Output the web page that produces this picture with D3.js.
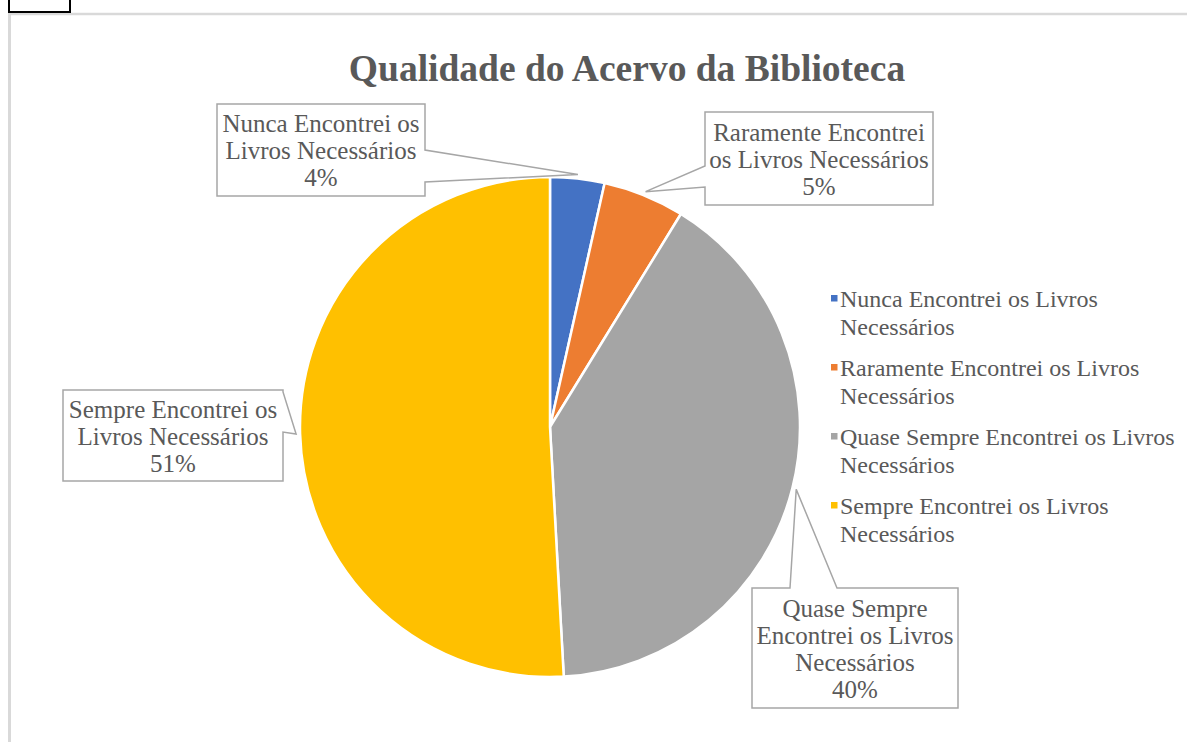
<!DOCTYPE html>
<html lang="pt">
<head>
<meta charset="utf-8">
<title>Qualidade do Acervo da Biblioteca</title>
<script src="https://cdn.jsdelivr.net/npm/d3@7"></script>
<style>
  html, body { margin: 0; padding: 0; background: #fff; }
  svg { display: block; }
</style>
</head>
<body>
<svg id="chart" width="1187" height="742"></svg>
<script>
// Survey answers: how often the library collection had the books needed
const categories = [
  "Nunca Encontrei os Livros Necessários",
  "Raramente Encontrei os Livros Necessários",
  "Quase Sempre Encontrei os Livros Necessários",
  "Sempre Encontrei os Livros Necessários"
];
const responses = [4, 6, 46, 58];
const sliceColors = ["#4472C4", "#ED7D31", "#A5A5A5", "#FFC000"];

// Text broken into lines for the legend and for the callout labels
const legendLines = [
  ["Nunca Encontrei os Livros", "Necessários"],
  ["Raramente Encontrei os Livros", "Necessários"],
  ["Quase Sempre Encontrei os Livros", "Necessários"],
  ["Sempre Encontrei os Livros", "Necessários"]
];
const labelLines = [
  ["Nunca Encontrei os", "Livros Necessários"],
  ["Raramente Encontrei", "os Livros Necessários"],
  ["Quase Sempre", "Encontrei os Livros", "Necessários"],
  ["Sempre Encontrei os", "Livros Necessários"]
];
const chartTitle = "Qualidade do Acervo da Biblioteca";

// Layout
const width = 1187, height = 742;
const cx = 550, cy = 427, radius = 250;
const textColor = "#595959";
const serif = "'Liberation Serif', 'Times New Roman', serif";
const labelSize = 25, legendSize = 24, lineGap = 27;

// Callout boxes: position, size, and the box edge that carries the pointer
const calloutBoxes = [
  { x: 217, y: 104, w: 208, h: 92,  side: "right", b0: 150, b1: 182 },
  { x: 705, y: 112, w: 228, h: 93,  side: "left",  b0: 166, b1: 187 },
  { x: 752, y: 588, w: 206, h: 120, side: "top",   b0: 790, b1: 837 },
  { x: 63,  y: 390, w: 220, h: 91,  side: "right", b0: 392, b1: 432 }
];

const svg = d3.select("#chart");

// Chart frame
const frame = svg.append("g");
frame.append("line").attr("x1", 8).attr("x2", width).attr("y1", 14).attr("y2", 14)
  .attr("stroke", "#D9D9D9").attr("stroke-width", 2.5);
frame.append("line").attr("x1", 9.5).attr("x2", 9.5).attr("y1", 14).attr("y2", height)
  .attr("stroke", "#D9D9D9").attr("stroke-width", 3);
frame.append("rect").attr("x", 9).attr("y", -2).attr("width", 61).attr("height", 14)
  .attr("fill", "none").attr("stroke", "#000").attr("stroke-width", 2);

// Title
svg.append("text")
  .attr("x", 627).attr("y", 81)
  .attr("text-anchor", "middle")
  .style("font-family", serif)
  .attr("font-size", 37.5).attr("font-weight", "bold")
  .attr("fill", textColor)
  .text(chartTitle);

// Pie
const total = d3.sum(responses);
const pie = d3.pie().sort(null).value(d => d);
const arcs = pie(responses);
const arc = d3.arc().innerRadius(0).outerRadius(radius);
const tipArc = d3.arc().innerRadius(radius + 4).outerRadius(radius + 4);

const pieG = svg.append("g").attr("transform", `translate(${cx},${cy})`);
pieG.selectAll("path.slice")
  .data(arcs)
  .join("path")
  .attr("class", "slice")
  .attr("d", arc)
  .attr("fill", (d, i) => sliceColors[i])
  .attr("stroke", "#fff")
  .attr("stroke-width", 2.5)
  .attr("stroke-linejoin", "round");

// Callout outline: rectangle with a wedge running to the slice
function calloutPath(b, tip) {
  const x0 = b.x, y0 = b.y, x1 = b.x + b.w, y1 = b.y + b.h;
  const p = d3.path();
  p.moveTo(x0, y0);
  if (b.side === "top") { p.lineTo(b.b0, y0); p.lineTo(tip[0], tip[1]); p.lineTo(b.b1, y0); }
  p.lineTo(x1, y0);
  if (b.side === "right") { p.lineTo(x1, b.b0); p.lineTo(tip[0], tip[1]); p.lineTo(x1, b.b1); }
  p.lineTo(x1, y1);
  if (b.side === "bottom") { p.lineTo(b.b1, y1); p.lineTo(tip[0], tip[1]); p.lineTo(b.b0, y1); }
  p.lineTo(x0, y1);
  if (b.side === "left") { p.lineTo(x0, b.b1); p.lineTo(tip[0], tip[1]); p.lineTo(x0, b.b0); }
  p.closePath();
  return p.toString();
}

const labelG = svg.append("g");
arcs.forEach((a, i) => {
  const b = calloutBoxes[i];
  const c = tipArc.centroid(a);
  const tip = [cx + c[0], cy + c[1]];
  const g = labelG.append("g");
  g.append("path")
    .attr("d", calloutPath(b, tip))
    .attr("fill", "#fff")
    .attr("stroke", "#A6A6A6")
    .attr("stroke-width", 1.5)
    .attr("stroke-linejoin", "miter");
  const pct = Math.round(a.value / total * 100) + "%";
  const lines = labelLines[i].concat([pct]);
  const midY = b.y + b.h / 2;
  const first = midY - (lines.length - 1) * lineGap / 2 + 9;
  const t = g.append("text")
    .attr("text-anchor", "middle")
    .style("font-family", serif)
    .attr("font-size", labelSize)
    .attr("fill", textColor);
  lines.forEach((ln, k) => {
    t.append("tspan").attr("x", b.x + b.w / 2).attr("y", first + k * lineGap).text(ln);
  });
});

// Legend
const legendX = 831, legendY = 307, itemGap = 69;
const legend = svg.append("g");
categories.forEach((name, i) => {
  const y = legendY + i * itemGap;
  legend.append("rect")
    .attr("x", legendX).attr("y", y - 12)
    .attr("width", 6.5).attr("height", 6.5)
    .attr("fill", sliceColors[i]);
  const t = legend.append("text")
    .style("font-family", serif)
    .attr("font-size", legendSize)
    .attr("fill", textColor);
  legendLines[i].forEach((ln, k) => {
    t.append("tspan").attr("x", legendX + 9).attr("y", y + k * 28).text(ln);
  });
});
</script>
</body>
</html>
